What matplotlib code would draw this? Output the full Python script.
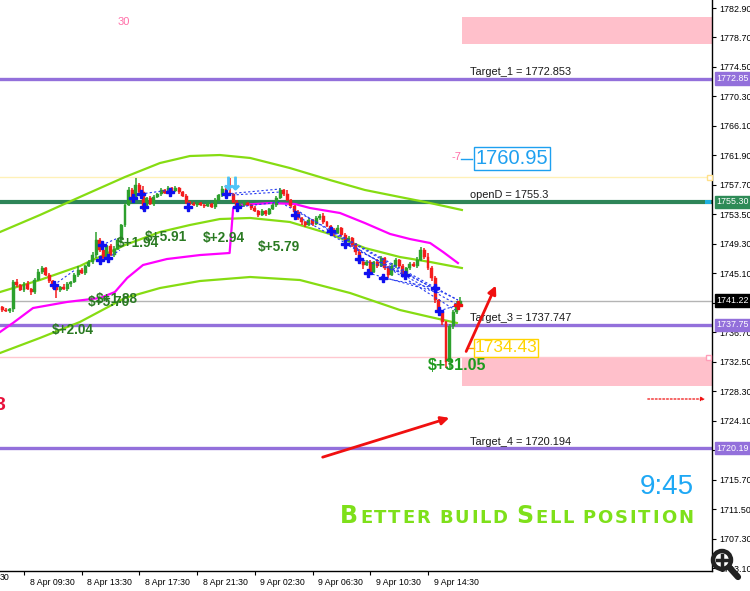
import matplotlib
matplotlib.use('Agg')
import matplotlib.pyplot as plt
import matplotlib.transforms as mtransforms
from matplotlib.patches import Rectangle, Circle
import numpy as np

# ---------------- data ----------------
bar_start = -6
first_open = 1740.30
closes = [
    1739.87, 1739.73, 1740.01, 1743.86, 1743.43, 1742.72,
    1743.57, 1742.86, 1742.43, 1744.14, 1745.28, 1745.85, 1744.85, 1744.00, 1743.29, 1742.72,
    1743.15, 1742.86, 1743.57, 1743.86, 1744.85, 1745.57, 1745.14, 1746.14, 1746.71, 1747.70,
    1749.84, 1748.42, 1747.28, 1748.99, 1747.70, 1748.56, 1749.84, 1751.98, 1754.83, 1756.97,
    1755.54, 1757.68, 1756.68, 1754.69, 1755.83, 1754.97, 1755.97, 1756.40, 1756.97, 1756.54,
    1757.26, 1756.82, 1757.26, 1756.68, 1756.11, 1755.26, 1754.97, 1754.83, 1755.11, 1754.83,
    1754.69, 1754.97, 1754.54, 1755.54, 1756.25, 1757.11, 1756.54, 1756.40, 1755.26, 1754.54,
    1754.83, 1755.11, 1754.83, 1754.40, 1753.97, 1753.40, 1753.97, 1753.55, 1754.26, 1754.83,
    1755.83, 1756.97, 1756.40, 1755.54, 1754.69, 1753.83, 1752.98, 1752.41, 1751.98, 1752.69,
    1752.12, 1752.98, 1753.26, 1752.41, 1751.84, 1751.27, 1750.84, 1751.55, 1750.55, 1749.70,
    1750.13, 1749.13, 1748.13, 1746.71, 1746.28, 1746.71, 1745.28, 1746.71, 1746.14, 1747.28,
    1745.85, 1744.85, 1746.14, 1746.99, 1746.14, 1745.00, 1745.85, 1746.42, 1746.14, 1746.99,
    1748.42, 1747.42, 1745.85, 1744.43, 1741.29, 1739.58, 1738.16, 1732.46, 1737.59, 1739.58,
    1740.72, 1741.22,
]
upper_wick = [
    0.2, 0.3, 0.2, 0.3, 0.4, 0.2,
    0.3, 0.5, 0.2, 0.3, 0.4, 0.3, 0.2, 0.3, 0.2, 0.3,
    0.2, 0.4, 0.3, 0.2, 0.3, 0.5, 0.3, 0.2, 0.3, 0.4,
    1.1, 0.3, 0.5, 0.2, 0.3, 0.4, 0.3, 0.2, 0.3, 0.4,
    0.3, 1.0, 0.3, 0.8, 0.2, 0.3, 0.3, 0.2, 0.3, 0.2,
    0.3, 0.2, 0.3, 0.2, 0.2, 0.3, 0.2, 0.3, 0.2, 0.2,
    0.2, 0.3, 0.2, 0.3, 0.2, 0.4, 0.6, 2.1, 0.2, 0.3,
    0.2, 0.3, 0.2, 0.2, 0.3, 0.2, 0.3, 0.2, 0.2, 0.3,
    0.3, 0.3, 0.2, 0.6, 0.2, 0.2, 0.3, 0.2, 0.2, 0.3,
    0.2, 0.3, 0.3, 0.4, 0.2, 0.2, 0.3, 0.4, 0.2, 0.3,
    0.3, 0.2, 0.3, 0.4, 0.2, 0.3, 0.3, 0.2, 0.4, 0.3,
    0.2, 0.3, 0.4, 0.3, 0.2, 0.3, 0.2, 0.3, 0.3, 0.4,
    0.4, 0.3, 0.5, 0.3, 0.3, 0.2, 0.3, 0.2, 0.3, 0.3,
    0.4, 0.5,
]
lower_wick = [
    0.3, 0.2, 0.3, 0.4, 0.3, 0.2,
    0.3, 0.2, 0.4, 0.3, 0.2, 0.3, 0.2, 0.3, 0.4, 1.1,
    0.3, 0.2, 0.3, 0.4, 0.2, 0.3, 0.2, 0.3, 0.2, 0.3,
    0.4, 0.3, 0.5, 0.3, 0.2, 0.3, 0.2, 0.4, 0.3, 0.2,
    0.3, 0.2, 0.3, 0.6, 0.3, 0.2, 0.3, 0.2, 0.3, 0.2,
    0.2, 0.3, 0.2, 0.3, 0.2, 0.3, 0.2, 0.2, 0.3, 0.2,
    0.3, 0.2, 0.2, 0.3, 0.2, 0.3, 0.2, 0.3, 0.2, 0.3,
    0.2, 0.3, 0.2, 0.3, 0.2, 0.3, 0.2, 0.3, 0.2, 0.2,
    0.3, 0.2, 0.3, 0.2, 0.3, 0.2, 0.3, 0.4, 0.3, 0.2,
    0.3, 0.2, 0.3, 0.3, 0.2, 0.3, 0.4, 0.2, 0.3, 0.3,
    0.2, 0.3, 0.4, 0.3, 0.5, 0.2, 0.3, 0.2, 0.3, 0.2,
    0.3, 0.4, 0.2, 0.3, 0.3, 0.4, 0.2, 0.3, 0.2, 0.3,
    0.2, 0.3, 0.3, 0.5, 0.4, 0.6, 0.5, 0.85, 1.1, 0.4,
    0.3, 0.3,
]

upper_band_x = [-6.65, 4.4, 15.5, 28.0, 37.7, 46.0, 54.3, 62.7, 73.7, 84.8, 94.5, 104.2, 112.6, 121.4]
upper_band = [1750.98, 1753.40, 1755.97, 1758.82, 1760.81, 1761.81, 1761.95, 1761.53, 1760.10,
              1758.39, 1756.97, 1755.97, 1755.11, 1754.12]
mid_band = [1742.43, 1744.14, 1746.14, 1749.13, 1750.98, 1751.98, 1752.83, 1752.98, 1752.41,
            1750.70, 1748.70, 1747.42, 1746.71, 1745.85]
lower_band_x = [-6.65, 4.4, 15.5, 28.0, 37.7, 48.8, 62.7, 76.5, 90.4, 104.2, 112.6, 120.0]
lower_band = [1733.74, 1735.88, 1738.16, 1741.58, 1743.00, 1744.00, 1744.57, 1744.14, 1742.29,
              1739.87, 1738.87, 1738.02]
magenta_x = [-6.65, -3.05, 2.5, 11.9, 21.1, 25.2, 28.6, 33.0, 39.6, 48.8, 57.0, 58.0, 59.9, 68.2,
             75.1, 79.3, 87.6, 94.5, 101.5, 107.0, 112.6, 116.2, 120.3]
magenta = [1736.73, 1738.02, 1740.15, 1741.01, 1741.58, 1742.43, 1744.43, 1746.28, 1747.13, 1747.70,
           1747.99, 1754.40, 1754.83, 1755.11, 1754.97, 1754.40, 1753.69, 1752.26, 1750.70, 1749.98,
           1749.41, 1748.13, 1746.56]

star_x = [8.3, 21.1, 21.6, 23.3, 30.2, 32.4, 33.3, 40.5, 45.5, 56.0, 59.1, 75.1, 85.1, 89.0, 92.9,
          95.4, 99.5, 105.6, 113.9, 115.1]
star_p = [1743.43, 1746.99, 1749.13, 1747.28, 1755.83, 1756.40, 1754.54, 1756.68, 1754.54, 1756.40,
          1754.54, 1753.40, 1751.13, 1749.27, 1747.13, 1745.14, 1744.43, 1744.85, 1743.00, 1739.73]
close_mark_x = [120.3]
close_mark_p = [1740.58]
trade_x0 = [8.3, 21.6, 23.3, 30.2, 32.4, 56.0, 57.7, 59.1, 72.4, 75.1, 76.5, 85.1, 89.0, 92.9, 95.4, 99.5, 115.1]
trade_p0 = [1743.43, 1749.13, 1747.28, 1755.83, 1756.40, 1756.40, 1756.25, 1754.54, 1754.83, 1753.40,
            1753.83, 1751.13, 1749.27, 1747.13, 1745.14, 1744.43, 1739.73]
trade_x1 = [14.1, 26.1, 26.6, 32.4, 40.5, 71.0, 71.0, 71.0, 120.3, 120.3, 119.5, 115.3, 120.3, 107.6, 115.3, 113.9, 120.3]
trade_p1 = [1745.57, 1750.13, 1748.42, 1756.40, 1756.97, 1757.11, 1756.68, 1755.26, 1741.29, 1740.58,
            1739.87, 1742.43, 1741.29, 1744.71, 1742.29, 1743.00, 1740.58]

profit_labels = ['$+2.04', '$+5.70', '$+1.88', '$+1.94', '$+5.91', '$+2.94', '$+5.79']

level_names = ['Target_1', 'openD', 'Target_3', 'Target_4']
level_values = [1772.853, 1755.3, 1737.747, 1720.194]
current_price = 1741.22
yellow_level = 1758.82
pink_level = 1733.17
zone_top = (1781.62, 1777.77)
zone_bottom = (1733.17, 1729.04)

x_ticks = [0, 16, 32, 48, 64, 80, 96, 112]
x_labels = ['8 Apr 09:30', '8 Apr 13:30', '8 Apr 17:30', '8 Apr 21:30', '9 Apr 02:30',
            '9 Apr 06:30', '9 Apr 10:30', '9 Apr 14:30']
y_ticks = [1782.90, 1778.70, 1774.50, 1770.30, 1766.10, 1761.90, 1757.70, 1753.50, 1749.30, 1745.10,
           1740.90, 1736.70, 1732.50, 1728.30, 1724.10, 1719.90, 1715.70, 1711.50, 1707.30, 1703.10]

# ---------------- layout helpers (pixel -> data) ----------------
PX0, PXS = 24.0, 3.607
PY0, PYS = 1784.04, 0.14249
def X(px):
    return (px - PX0) / PXS
def Y(py):
    return PY0 - py * PYS

W, H = 750, 591
fig = plt.figure(figsize=(W / 100, H / 100), dpi=100)
ax = fig.add_axes([0, 20 / H, 712 / W, 571 / H])
ax.set_xlim(X(0), X(712))
ax.set_ylim(Y(571), Y(0))
ax.set_facecolor('white')

for s in ['top', 'left']:
    ax.spines[s].set_visible(False)
ax.spines['right'].set_color('black')
ax.spines['bottom'].set_color('black')
ax.spines['right'].set_linewidth(1.0)
ax.spines['bottom'].set_linewidth(1.0)

# zones
ax.add_patch(Rectangle((X(462), zone_top[1]), X(712) - X(462), zone_top[0] - zone_top[1],
                       facecolor='#FFC0CB', edgecolor='none', zorder=0))
ax.add_patch(Rectangle((X(462), zone_bottom[1]), X(712) - X(462), zone_bottom[0] - zone_bottom[1],
                       facecolor='#FFC0CB', edgecolor='none', zorder=0))

# horizontal levels
ax.axhline(yellow_level, color='#FFF1B8', lw=1.0, zorder=1)
ax.axhline(pink_level, color='#FFC8D0', lw=1.0, zorder=1)
ax.axhline(current_price, color='#B4B4B4', lw=1.0, zorder=1)
for name, v in zip(level_names, level_values):
    if name == 'openD':
        ax.axhline(v, color='#2E8558', lw=3.0, zorder=2)
    else:
        ax.axhline(v, color='#9370DB', lw=2.4, zorder=2)

# bands
ax.plot(upper_band_x, upper_band, color='#86DC12', lw=1.6, zorder=3)
ax.plot(upper_band_x, mid_band, color='#86DC12', lw=1.6, zorder=3)
ax.plot(lower_band_x, lower_band, color='#86DC12', lw=1.6, zorder=3)
ax.plot(magenta_x, magenta, color='#FF00FF', lw=1.6, zorder=3)

# candles
xs = np.arange(bar_start, bar_start + len(closes))
opens = [first_open] + closes[:-1]
for x, o, c, uw, lw_ in zip(xs, opens, closes, upper_wick, lower_wick):
    col = '#2DA02D' if c >= o else '#F41C1C'
    hi = max(o, c) + uw
    lo = min(o, c) - lw_
    ax.vlines(x, lo, hi, color=col, lw=1.1, zorder=4)
    h = abs(c - o)
    if h < 0.08:
        h = 0.08
    ax.bar(x, h, bottom=min(o, c), width=0.82, color=col, edgecolor=col, lw=0.3, zorder=5)

# trades
for a, b, c, d in zip(trade_x0, trade_p0, trade_x1, trade_p1):
    ax.plot([a, c], [b, d], color='#2438F0', lw=0.8, ls=(0, (2, 2)), zorder=6)
ax.plot(star_x, star_p, 'P', color='#1010F0', ms=5.5, mec='#1010F0', zorder=7)
ax.plot(close_mark_x, close_mark_p, 'P', color='#F01010', ms=5.5, zorder=7)
for px_ in (228, 235):
    ax.plot([X(px_)], [Y(183)], marker=r'$\downarrow$', color='#4FC3F7', ms=9, zorder=7)

# level texts
TF = 'Liberation Sans'
ax.text(X(470), Y(72), 'Target_1 = 1772.853', fontsize=7.9, family=TF, color='#1A1A1A', va='center', zorder=8)
ax.text(X(470), Y(195), 'openD = 1755.3', fontsize=7.9, family=TF, color='#1A1A1A', va='center', zorder=8)
ax.text(X(470), Y(318), 'Target_3 = 1737.747', fontsize=7.9, family=TF, color='#1A1A1A', va='center', zorder=8)
ax.text(X(470), Y(442), 'Target_4 = 1720.194', fontsize=7.9, family=TF, color='#1A1A1A', va='center', zorder=8)

ax.text(X(118), Y(22), '30', fontsize=8, family=TF, color='#FF6FA8', va='center', zorder=8)
ax.text(X(452), Y(157), '-7', fontsize=8, family=TF, color='#FF6FA8', va='center', zorder=8)
ax.plot([X(461), X(472)], [Y(159), Y(159)], color='#1EA0F0', lw=1.0, zorder=8)
ax.text(X(512), Y(158.5), '1760.95', fontsize=14.5, family=TF, color='#1EA0F0', va='center', ha='center',
        bbox=dict(boxstyle='square,pad=0.1', fc='white', ec='#1EA0F0', lw=1.0), zorder=9)
ax.plot([X(468), X(474)], [Y(348), Y(348)], color='#FF9900', lw=1.0, zorder=8)
ax.text(X(506), Y(348), '1734.43', fontsize=12.5, family=TF, color='#FFD400', va='center', ha='center',
        bbox=dict(boxstyle='square,pad=0.06', fc='none', ec='#FFD400', lw=1.0), zorder=9)

# profit labels
PG = '#2A7A22'
pos = [(52, 330), (88, 302), (96, 299), (117, 243), (145, 237), (203, 238), (258, 247)]
for lab, (px_, py_) in zip(profit_labels, pos):
    ax.text(X(px_), Y(py_), lab, fontsize=9.8, family=TF, weight='bold', color=PG, va='center', zorder=8)
ax.text(X(428), Y(365), '$+31.05', fontsize=11.5, family=TF, weight='bold', color='#1E9A1E', va='center', zorder=8)

ax.text(X(-5), Y(405), '3', fontsize=14, family=TF, weight='bold', color='#E8103A', va='center', zorder=8)

# arrows
ax.annotate('', xy=(X(452), Y(417)), xytext=(X(320), Y(458)),
            arrowprops=dict(arrowstyle='-|>', color='#F01010', lw=2.0, mutation_scale=12), zorder=9)
ax.annotate('', xy=(X(497), Y(283)), xytext=(X(465), Y(354)),
            arrowprops=dict(arrowstyle='-|>', color='#F01010', lw=2.0, mutation_scale=12), zorder=9)
ax.annotate('', xy=(X(708), Y(399)), xytext=(X(645), Y(399)),
            arrowprops=dict(arrowstyle='-|>', color='#F01010', lw=0.9, ls=(0, (1.5, 1.5)), mutation_scale=6), zorder=9)

# big texts
ax.text(X(694), Y(487), '9:45', fontsize=20, family=TF, color='#1EA8F5', va='center', ha='right', zorder=9)

# axes ticks
ax.yaxis.tick_right()
ax.set_yticks(y_ticks)
ax.set_yticklabels(['%.2f' % v for v in y_ticks])
ax.tick_params(axis='y', direction='out', length=3, width=0.8, pad=2, labelsize=6.4, colors='black')
ax.set_xticks(x_ticks)
ax.set_xticklabels(x_labels)
ax.tick_params(axis='x', direction='out', length=3, width=0.8, pad=2, labelsize=6.3, colors='black')
off = mtransforms.ScaledTranslation(4 / 72, 0, fig.dpi_scale_trans)
for lab in ax.get_xticklabels():
    lab.set_horizontalalignment('left')
    lab.set_family(TF)
    lab.set_transform(lab.get_transform() + off)
for lab in ax.get_yticklabels():
    lab.set_family(TF)
fig.text(0, (H - 578) / H, '30', fontsize=6.3, family=TF, va='center', ha='left')

# small markers on the price scale edge
tr = mtransforms.IdentityTransform()
fig.patches.append(Rectangle((707, H - 180), 5, 5, transform=tr, fc='white', ec='#FFE08A', lw=1.0, zorder=15))
fig.patches.append(Rectangle((705, H - 204), 6, 4, transform=tr, fc='#20B0E0', ec='none', zorder=15))
fig.patches.append(Rectangle((706, H - 360), 5, 5, transform=tr, fc='white', ec='#FF9EB8', lw=1.0, zorder=15))

# right-axis price boxes
ytr = ax.get_yaxis_transform()
box_specs = [(1772.85, '#9370DB'), (1755.30, '#2E8B57'), (1741.22, '#000000'),
             (1737.75, '#9370DB'), (1720.19, '#9370DB')]
for v, colr in box_specs:
    ax.text(1.006, v, '%.2f' % v, transform=ytr, fontsize=6.4, family=TF, color='white', va='center',
            ha='left', clip_on=False, zorder=20,
            bbox=dict(boxstyle='square,pad=0.18', fc=colr, ec=colr))

# small-caps slogan, spaced out to the reference width
def smallcaps(chars, x_left, x_right, y_base, big, small, color):
    renderer = fig.canvas.get_renderer()
    texts, widths = [], []
    for ch, isbig in chars:
        if ch == ' ':
            texts.append(None)
            widths.append(small * 0.35)
            continue
        t = fig.text(0, y_base, ch, fontsize=big if isbig else small, weight='bold', family='DejaVu Sans',
                     color=color, transform=tr, va='baseline', ha='left')
        texts.append(t)
        widths.append(t.get_window_extent(renderer).width)
    gap = (x_right - x_left - sum(widths)) / (len(chars) - 1)
    x = x_left
    for t, w in zip(texts, widths):
        if t is not None:
            t.set_x(x)
        x += w + gap

slogan = 'Better build Sell position'
chars = []
for word in slogan.split(' '):
    for k, ch in enumerate(word):
        chars.append((ch.upper(), ch.isupper()))
    chars.append((' ', False))
chars = chars[:-1]
smallcaps(chars, 340, 693, H - 523, 17, 13, '#7EE01A')

# zoom icon
fig.patches.append(Circle((722, H - 560), 9, transform=tr, fc='white', ec='#222222', lw=3.2, zorder=30))
fig.lines.append(plt.Line2D([729, 738], [H - 567, H - 577], transform=tr, color='#222222', lw=4.5,
                            solid_capstyle='round', zorder=30))
fig.lines.append(plt.Line2D([717, 727], [H - 560, H - 560], transform=tr, color='#222222', lw=2.5, zorder=31))
fig.lines.append(plt.Line2D([722, 722], [H - 555, H - 565], transform=tr, color='#222222', lw=2.5, zorder=31))

fig.savefig('out.png', dpi=100, facecolor='white')
